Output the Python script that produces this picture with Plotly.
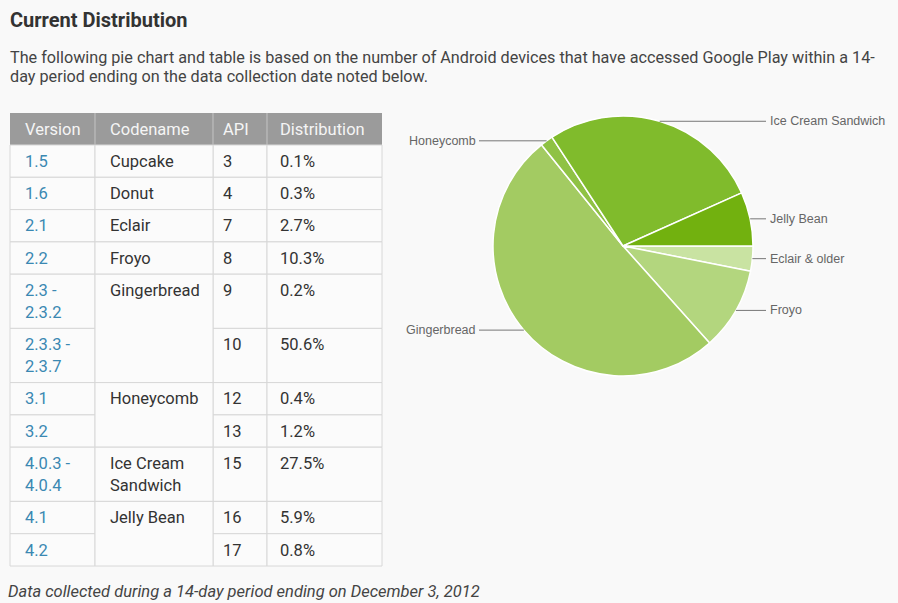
import math
import plotly.graph_objects as go

W, H = 898, 603

# ---------------- data ----------------
versions = ["1.5", "1.6", "2.1", "2.2", "2.3 -|2.3.2", "2.3.3 -|2.3.7", "3.1", "3.2",
            "4.0.3 -|4.0.4", "4.1", "4.2"]
apis = [3, 4, 7, 8, 9, 10, 12, 13, 15, 16, 17]
dists = [0.1, 0.3, 2.7, 10.3, 0.2, 50.6, 0.4, 1.2, 27.5, 5.9, 0.8]
codenames = ["Cupcake", "Donut", "Eclair", "Froyo", "Gingerbread", "Honeycomb",
             "Ice Cream|Sandwich", "Jelly Bean"]
codename_rowspan = [1, 1, 1, 1, 2, 2, 1, 2]
headers = ["Version", "Codename", "API", "Distribution"]

# pie slices, counterclockwise from 3 o'clock
pie_labels = ["Jelly Bean", "Ice Cream Sandwich", "Honeycomb", "Gingerbread", "Froyo", "Eclair & older"]
pie_members = [["Jelly Bean"], ["Ice Cream|Sandwich"], ["Honeycomb"], ["Gingerbread"], ["Froyo"],
               ["Cupcake", "Donut", "Eclair"]]
pie_colors = ["#72b10f", "#80bb2c", "#8fc244", "#a3cb62", "#b3d67e", "#c9e3a2"]

title = "Current Distribution"
para = ["The following pie chart and table is based on the number of Android devices that have accessed Google Play within a 14-",
        "day period ending on the data collection date noted below."]
footer = "Data collected during a 14-day period ending on December 3, 2012"

# ---------------- helpers ----------------
def X(px):
    return px / W

def Y(py):
    return 1 - py / H

row_code = []
for name, span in zip(codenames, codename_rowspan):
    row_code += [name] * span
pie_values = []
for mem in pie_members:
    pie_values.append(round(sum(d for d, c in zip(dists, row_code) if c in mem), 1))

shapes = []
annotations = []
FONT = "Roboto"
FS = 16.5

def text(x, y, s, size=FS, color="#333", xanchor="left", family=FONT, yanchor="middle"):
    annotations.append(dict(x=X(x), y=Y(y), xref="paper", yref="paper", text=s, showarrow=False,
                            xanchor=xanchor, yanchor=yanchor,
                            font=dict(family=family, size=size, color=color)))

# title, paragraph, footer
text(8, 20, "<b>" + title + "</b>", size=20, color="#333")
text(8, 57, para[0], size=16.2, color="#444")
text(8, 77, para[1], size=16.2, color="#444")
text(6, 591, "<i>" + footer + "</i>", size=16.5, color="#444")

# ---------------- table ----------------
col_x = [10, 95, 213, 267, 382]
pad = [13, 13, 8, 11]
top = 113
head_h = 32
single_h, double_h = 32.3, 54.2

shapes.append(dict(type="rect", xref="paper", yref="paper", x0=X(col_x[0]), x1=X(col_x[-1]),
                   y0=Y(top), y1=Y(top + head_h), fillcolor="#9b9b9b", line=dict(width=0), layer="below"))
for i, h in enumerate(headers):
    if i > 0:
        shapes.append(dict(type="line", xref="paper", yref="paper", x0=X(col_x[i]), x1=X(col_x[i]),
                           y0=Y(top), y1=Y(top + head_h), line=dict(color="#c4c4c4", width=1)))
    text(col_x[i] + pad[i], top + head_h / 2, h, color="#f5f5f5")

row_lines = [len(v.split("|")) for v in versions]
code_lines = {c: len(c.split("|")) for c in codenames}
row_tops = []
y = top + head_h
for i in range(len(versions)):
    lines = row_lines[i]
    if i == 0 or row_code[i] != row_code[i - 1]:
        lines = max(lines, code_lines[row_code[i]])
    row_tops.append(y)
    y += single_h if lines == 1 else double_h
table_bottom = y
row_bottoms = row_tops[1:] + [table_bottom]

border = "#d8d8d8"
cell_bg = "#fbfbfb"

def cell(x0, x1, y0, y1):
    shapes.append(dict(type="rect", xref="paper", yref="paper", x0=X(x0), x1=X(x1), y0=Y(y0), y1=Y(y1),
                       fillcolor=cell_bg, line=dict(color=border, width=1), layer="below"))

def cell_text(x, ytop, s, color):
    for k, ln in enumerate(s.split("|")):
        text(x, ytop + 16.3 + k * 22, ln, color=color)

for i in range(len(versions)):
    y0, y1 = row_tops[i], row_bottoms[i]
    cell(col_x[0], col_x[1], y0, y1)
    cell_text(col_x[0] + pad[0], y0, versions[i], "#3a88b2")
    cell(col_x[2], col_x[3], y0, y1)
    cell_text(col_x[2] + pad[2], y0, str(apis[i]), "#333")
    cell(col_x[3], col_x[4], y0, y1)
    cell_text(col_x[3] + pad[3], y0, f"{dists[i]}%", "#333")

r = 0
for name, span in zip(codenames, codename_rowspan):
    y0, y1 = row_tops[r], row_bottoms[r + span - 1]
    cell(col_x[1], col_x[2], y0, y1)
    cell_text(col_x[1] + pad[1], y0, name, "#333")
    r += span

# ---------------- pie ----------------
cx, cy, R = 623, 246, 130
fig = go.Figure()
# plotly draws clockwise from rotation; feed slices in reverse order so they run
# counterclockwise from 3 o'clock as in the original
fig.add_trace(go.Pie(
    labels=pie_labels[::-1], values=pie_values[::-1], sort=False, direction="clockwise", rotation=90,
    textinfo="none", hoverinfo="skip",
    marker=dict(colors=pie_colors[::-1], line=dict(color="#ffffff", width=1.5)),
    domain=dict(x=[X(cx - R), X(cx + R)], y=[Y(cy + R), Y(cy - R)]),
    showlegend=False,
))

total = sum(pie_values)
ang = 0.0
for lab, v in zip(pie_labels, pie_values):
    a = v / total * 360
    mid = math.radians(ang + a / 2)
    ang += a
    px = cx + R * math.cos(mid)
    py = cy - R * math.sin(mid)
    if math.cos(mid) >= 0:
        xe, tx, anc = 766, 768, "left"
    else:
        xe, tx, anc = 479, 478, "right"
    shapes.append(dict(type="line", xref="paper", yref="paper", x0=X(px), x1=X(xe), y0=Y(py), y1=Y(py),
                       line=dict(color="#777", width=1)))
    text(tx, py, lab, size=12.5, color="#666", xanchor=anc, family="Liberation Sans, Arial")

fig.update_layout(width=W, height=H, margin=dict(l=0, r=0, t=0, b=0),
                  paper_bgcolor="#f9f9f9", plot_bgcolor="#f9f9f9",
                  shapes=shapes, annotations=annotations)
fig.write_html("out.html")
